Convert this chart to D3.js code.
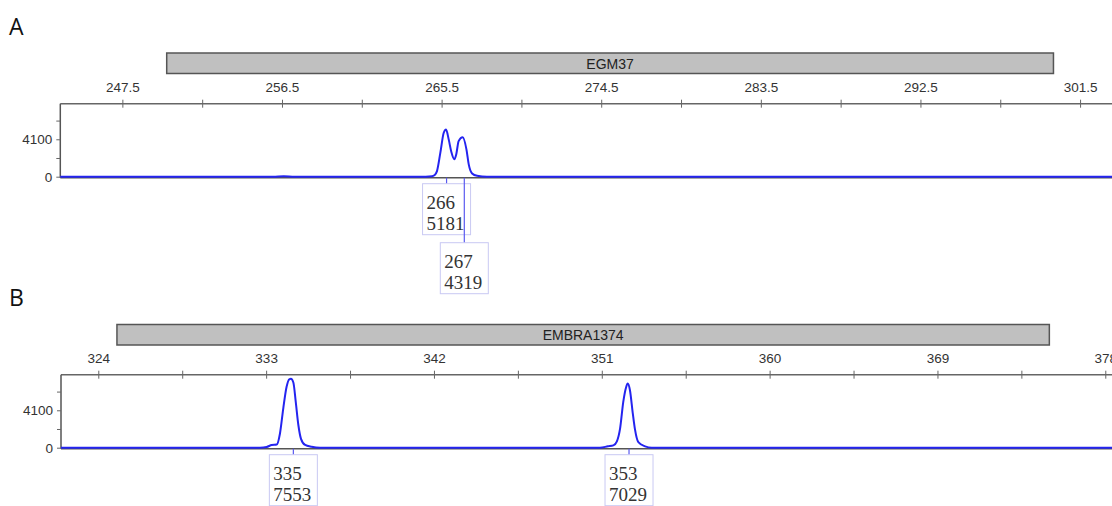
<!DOCTYPE html>
<html>
<head>
<meta charset="utf-8">
<script src="https://cdn.jsdelivr.net/npm/d3@7"></script>
<style>
  html, body { margin: 0; padding: 0; background: #fff; }
  svg { display: block; }
</style>
</head>
<body>
<svg id="chart" width="1112" height="506"></svg>
<script>
// ---------------- DATA ----------------
const panelLetters = ["A", "B"];
const markerNames = ["EGM37", "EMBRA1374"];
const binA = [250, 300];
const binB = [325, 375];
const xDomainA = [244, 304];
const xDomainB = [322, 380];
const yDomain = [0, 8000];
const xTicksA = [247.5, 256.5, 265.5, 274.5, 283.5, 292.5, 301.5];
const xMinorA = [252, 261, 270, 279, 288, 297];
const xTicksB = [324, 333, 342, 351, 360, 369, 378];
const xMinorB = [328.5, 337.5, 346.5, 355.5, 364.5, 373.5];
const yTicks = [0, 2050, 4100, 6150];
const yTickLabels = ["0", "", "4100", ""];

// trace A (size in bp, height in RFU)
const traceASize = [244, 256.0, 256.6, 257.2, 264.6, 264.96, 265.09, 265.24, 265.43, 265.62, 265.75, 265.90, 266.05, 266.22, 266.33, 266.46, 266.69, 266.90, 267.03, 267.22, 267.50, 268.06, 304];
const traceARfu  = [0,   0,     60,    0,     0,     40,     150,    614,    2630,   4820,   5181,   4090,   2700,   1900,   2500,   3900,   4319,   3000,   1350,   360,    100,    0,      0];
// trace B
const traceBSize = [322, 332.67, 333.03, 333.30, 333.57, 333.74, 333.92, 334.10, 334.24, 334.33, 334.46, 334.59, 334.73, 334.87, 335.09, 335.44, 335.89, 350.90, 351.33, 351.62, 351.81, 351.98, 352.15, 352.30, 352.39, 352.51, 352.66, 352.78, 352.96, 353.32, 353.68, 380];
const traceBRfu  = [0,   0,      80,     300,    350,    1530,   4320,   6700,   7500,   7553,   7150,   5000,   2460,   970,    300,    100,    0,      0,      150,    250,    700,    2090,   5000,   6600,   7029,   6300,   3800,   2000,   600,    150,    0,      0];

// called peaks
const peakALabels = ["266", "267"];
const peakAHeights = [5181, 4319];
const peakASizes = [265.78, 266.78];
const peakALevels = [0, 1];
const peakBLabels = ["335", "353"];
const peakBHeights = [7553, 7029];
const peakBSizes = [334.46, 352.46];
const peakBLevels = [0, 0];

// ---------------- DRAW ----------------
const svg = d3.select("#chart");
const sans = "'Liberation Sans', Arial, Helvetica, sans-serif";
const serif = "'Liberation Serif', 'Times New Roman', serif";

function drawPanel(opt) {
  const g = svg.append("g");
  const x = d3.scaleLinear().domain(opt.xDomain).range([opt.left, opt.left + (opt.xDomain[1] - opt.xDomain[0]) * opt.pxPerBp]);
  const y = d3.scaleLinear().domain(yDomain).range([opt.base, opt.base - 73]);

  // panel letter
  g.append("text").attr("x", 9).attr("y", opt.letterY)
    .attr("font-family", "'Open Sans', " + sans).attr("font-size", 23).attr("fill", "#111")
    .text(opt.letter);

  // bin bar
  g.append("rect")
    .attr("x", x(opt.bin[0])).attr("y", opt.binY)
    .attr("width", x(opt.bin[1]) - x(opt.bin[0])).attr("height", 20.5)
    .attr("fill", "#c0c0c0").attr("stroke", "#555").attr("stroke-width", 1.5);
  g.append("text")
    .attr("x", (x(opt.bin[0]) + x(opt.bin[1])) / 2).attr("y", opt.binY + 15.5)
    .attr("text-anchor", "middle").attr("font-family", sans).attr("font-size", 14).attr("fill", "#222")
    .text(opt.name);

  const top = y(yDomain[1]);

  // top x axis
  const xAxis = d3.axisTop(x).tickValues(opt.ticks).tickSize(4).tickPadding(8).tickFormat(d => String(d));
  const ax = g.append("g").attr("transform", `translate(0,${top})`).call(xAxis);
  ax.select(".domain").remove();
  ax.selectAll(".tick line").attr("stroke", "#666").attr("y2", -4).attr("y1", 4);
  ax.selectAll(".tick text").attr("font-family", sans).attr("font-size", 13.5).attr("fill", "#333");
  const axm = g.append("g").attr("transform", `translate(0,${top})`)
    .call(d3.axisTop(x).tickValues(opt.minor).tickSize(4).tickFormat(""));
  axm.select(".domain").remove();
  axm.selectAll(".tick line").attr("stroke", "#666").attr("y1", 4).attr("y2", -4);

  // frame lines
  g.append("line").attr("x1", opt.left).attr("x2", 1112).attr("y1", top).attr("y2", top)
    .attr("stroke", "#666").attr("stroke-width", 1.5);
  g.append("line").attr("x1", opt.left).attr("x2", opt.left).attr("y1", top).attr("y2", opt.base + 1)
    .attr("stroke", "#555").attr("stroke-width", 1.5);
  g.append("line").attr("x1", opt.left).attr("x2", 1112).attr("y1", opt.base + 1).attr("y2", opt.base + 1)
    .attr("stroke", "#555").attr("stroke-width", 1.5);

  // y axis
  const yAxis = d3.axisLeft(y).tickValues(yTicks).tickSize(4).tickPadding(4)
    .tickFormat((d, i) => yTickLabels[i]);
  const ay = g.append("g").attr("transform", `translate(${opt.left},0)`).call(yAxis);
  ay.select(".domain").remove();
  ay.selectAll(".tick line").attr("stroke", "#666");
  ay.selectAll(".tick text").attr("font-family", sans).attr("font-size", 13.5).attr("fill", "#333");

  // trace
  const pts = opt.size.map((s, i) => [s, opt.rfu[i]]);
  const line = d3.line().x(d => x(d[0])).y(d => y(d[1])).curve(d3.curveMonotoneX);
  g.append("path").datum(pts).attr("d", line)
    .attr("fill", "none").attr("stroke", "#2424f0").attr("stroke-width", 2);

  // peak labels
  opt.labels.forEach((lab, i) => {
    const px = x(opt.peakSizes[i]);
    const boxTop = opt.base + 7 + opt.levels[i] * 59;
    const bx = px - 24;
    g.append("line").attr("x1", px).attr("x2", px).attr("y1", opt.base + 1).attr("y2", boxTop)
      .attr("stroke", "#5a5af0").attr("stroke-width", 1.2);
    g.append("rect").attr("x", bx).attr("y", boxTop).attr("width", 48).attr("height", 51)
      .attr("fill", "none").attr("stroke", "#c9c9f3").attr("stroke-width", 1);
    g.append("text").attr("x", bx + 4).attr("y", boxTop + 25)
      .attr("font-family", serif).attr("font-size", 19).attr("fill", "#333").text(lab);
    g.append("text").attr("x", bx + 4).attr("y", boxTop + 46.5)
      .attr("font-family", serif).attr("font-size", 19).attr("fill", "#333").text(String(opt.heights[i]));
  });
}

drawPanel({
  letter: panelLetters[0], letterY: 35, name: markerNames[0], bin: binA, binY: 53,
  xDomain: xDomainA, left: 60.3, pxPerBp: 17.735, base: 176.7,
  ticks: xTicksA, minor: xMinorA, size: traceASize, rfu: traceARfu,
  labels: peakALabels, heights: peakAHeights, peakSizes: peakASizes, levels: peakALevels
});
drawPanel({
  letter: panelLetters[1], letterY: 306, name: markerNames[1], bin: binB, binY: 324.5,
  xDomain: xDomainB, left: 61, pxPerBp: 18.648, base: 447.7,
  ticks: xTicksB, minor: xMinorB, size: traceBSize, rfu: traceBRfu,
  labels: peakBLabels, heights: peakBHeights, peakSizes: peakBSizes, levels: peakBLevels
});
</script>
</body>
</html>
